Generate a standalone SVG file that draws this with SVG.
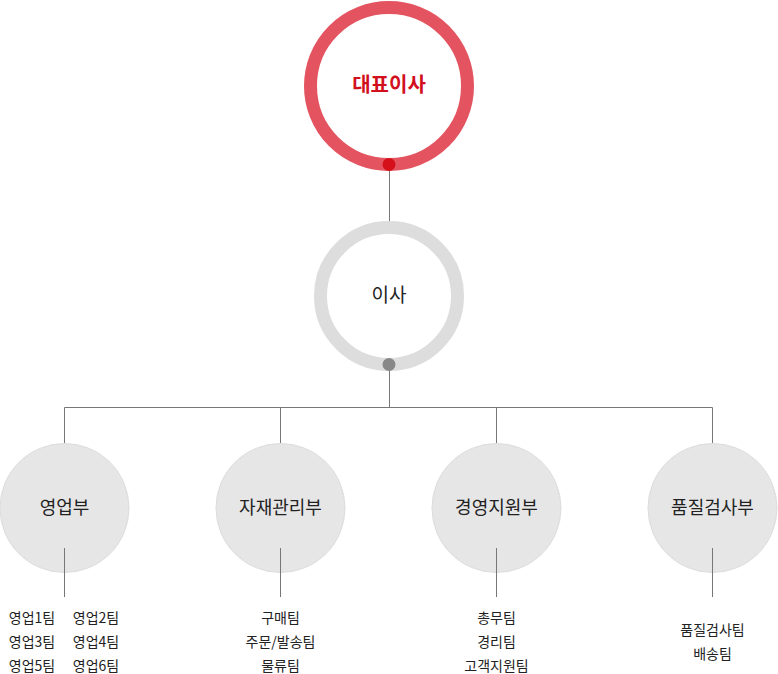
<svg xmlns="http://www.w3.org/2000/svg" width="778" height="674" viewBox="0 0 778 674">
<style>
text{font-family:"Noto Sans CJK KR","Noto Sans",sans-serif;text-anchor:middle}
.t{font-size:18px;fill:#222}
.dir{font-size:19px;fill:#222}
.ceo{font-size:20px;fill:#d20f1d;font-weight:bold}
.team{font-size:14px;fill:#222}
.ln{stroke:#777;stroke-width:1;fill:none}
.dept{fill:#e6e6e6;stroke:#dcdcdc;stroke-width:1}
</style>
<rect width="778" height="674" fill="#fff"/>
<g id="ceo">
<circle cx="389" cy="86" r="78.5" fill="#fff" stroke="#e45460" stroke-width="13"/>
<circle cx="389" cy="164.5" r="6.5" fill="#d5101b"/>
<text class="ceo" x="389" y="92">대표이사</text>
</g>
<g id="director">
<circle cx="389" cy="296" r="68.5" fill="#fff" stroke="#dddddd" stroke-width="13"/>
<circle cx="389" cy="364.5" r="6.5" fill="#888"/>
<text class="dir" x="389" y="302">이사</text>
</g>
<g id="sales">
<circle class="dept" cx="64.5" cy="508" r="64.5"/>
<text class="t" x="64.5" y="514">영업부</text>
<text class="team" x="32" y="623">영업1팀</text>
<text class="team" x="96" y="623">영업2팀</text>
<text class="team" x="32" y="647">영업3팀</text>
<text class="team" x="96" y="647">영업4팀</text>
<text class="team" x="32" y="671">영업5팀</text>
<text class="team" x="96" y="671">영업6팀</text>
</g>
<g id="material">
<circle class="dept" cx="280.5" cy="508" r="64.5"/>
<text class="t" x="280.5" y="514">자재관리부</text>
<text class="team" x="280.5" y="623">구매팀</text>
<text class="team" x="280.5" y="647">주문/발송팀</text>
<text class="team" x="280.5" y="671">물류팀</text>
</g>
<g id="management">
<circle class="dept" cx="496.5" cy="508" r="64.5"/>
<text class="t" x="496.5" y="514">경영지원부</text>
<text class="team" x="496.5" y="623">총무팀</text>
<text class="team" x="496.5" y="647">경리팀</text>
<text class="team" x="496.5" y="671">고객지원팀</text>
</g>
<g id="quality">
<circle class="dept" cx="712.5" cy="508" r="64.5"/>
<text class="t" x="712.5" y="514">품질검사부</text>
<text class="team" x="712.5" y="635">품질검사팀</text>
<text class="team" x="712.5" y="659">배송팀</text>
</g>
<g id="connectors">
<path class="ln" d="M389.5 171V221M389.5 371V407.5M64.5 407.5H712.5M64.5 407.5V443M280.5 407.5V443M496.5 407.5V443M712.5 407.5V443"/>
<path class="ln" d="M64.5 548V597M280.5 548V597M496.5 548V597M712.5 548V597"/>
</g>
</svg>
